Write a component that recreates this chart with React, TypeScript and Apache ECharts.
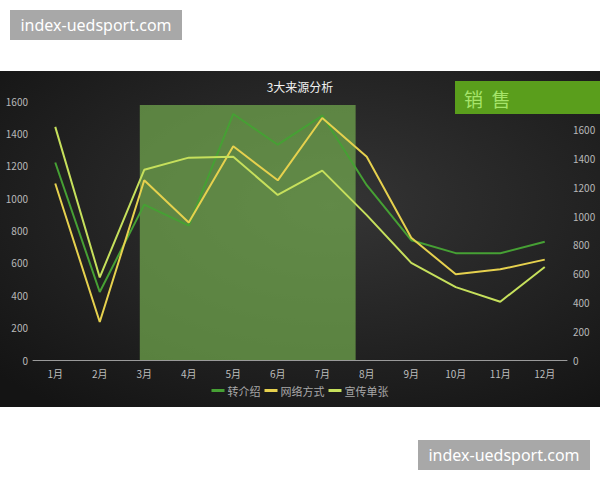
import { useEffect, useRef } from 'react';
import * as echarts from 'echarts';

// months on the x axis
const months = ['1月', '2月', '3月', '4月', '5月', '6月', '7月', '8月', '9月', '10月', '11月', '12月'];

// three sources
const referral = [1220, 420, 960, 830, 1520, 1330, 1510, 1080, 740, 660, 660, 730];
const online = [1090, 235, 1110, 850, 1320, 1110, 1495, 1255, 755, 530, 560, 620];
const flyer = [1440, 510, 1175, 1250, 1255, 1020, 1170, 895, 600, 450, 360, 575];

const seriesNames = ['转介绍', '网络方式', '宣传单张'];

// highlighted span (month index on a hidden value axis) and its top value
const highlightFrom = 1.9;
const highlightTo = 6.75;
const highlightTop = 1575;

export default function App() {
  const chartRef = useRef<HTMLDivElement>(null);

  useEffect(() => {
    if (!chartRef.current) return;
    const chart = echarts.init(chartRef.current, null, { renderer: 'svg' });

    const lineColors = ['#46a034', '#e6d14e', '#c6e05c'];

    const tag = (left: number, top: number) => ({
      type: 'group' as const,
      left,
      top,
      children: [
        { type: 'rect', shape: { x: 0, y: 0, width: 172, height: 30 }, style: { fill: '#a8a8a8' } },
        {
          type: 'text',
          x: 86,
          y: 15,
          style: {
            text: 'index-uedsport.com',
            fill: '#ffffff',
            fontSize: 16,
            fontFamily: '"Noto Sans", sans-serif',
            align: 'center',
            verticalAlign: 'middle',
          },
        },
      ],
    });

    const option: echarts.EChartsOption = {
      animation: false,
      backgroundColor: '#ffffff',
      textStyle: { fontFamily: '"Noto Sans CJK SC", "Noto Sans", sans-serif' },
      graphic: [
        // dark chart panel
        {
          type: 'rect',
          z: -10,
          shape: { x: 0, y: 71, width: 600, height: 336 },
          style: {
            fill: new echarts.graphic.RadialGradient(0.55, 0.4, 0.75, [
              { offset: 0, color: '#353535' },
              { offset: 1, color: '#141414' },
            ]),
          },
        },
        // site tags
        tag(10, 10),
        tag(418, 440),
        // "销售" banner
        {
          type: 'group',
          left: 455,
          top: 81,
          z: 20,
          children: [
            { type: 'rect', shape: { x: 0, y: 0, width: 145, height: 33 }, style: { fill: '#5a9e1c' } },
            {
              type: 'text',
              x: 9,
              y: 17,
              style: {
                text: '销  售',
                fill: '#a6e46a',
                fontSize: 19,
                fontFamily: '"Noto Sans CJK SC", sans-serif',
                verticalAlign: 'middle',
              },
            },
          ],
        },
      ],
      title: {
        text: '3大来源分析',
        left: 'center',
        top: 75,
        textStyle: { color: '#f0f0f0', fontSize: 12, fontWeight: 'normal' },
      },
      legend: {
        bottom: 79,
        left: 'center',
        icon: 'rect',
        itemWidth: 13,
        itemHeight: 3,
        itemGap: 4,
        data: seriesNames,
        textStyle: { color: '#a8a8a8', fontSize: 11, padding: [0, 0, 0, -2] },
      },
      grid: { left: 33, right: 33, top: 101, bottom: 120 },
      xAxis: [
        {
          type: 'category',
          data: months,
          boundaryGap: true,
          axisLine: { lineStyle: { color: '#9a9a9a', width: 1 } },
          axisTick: { show: false },
          axisLabel: { color: '#bdbdbd', fontSize: 10, margin: 8 },
        },
        { type: 'value', min: -0.5, max: 11.5, show: false },
      ],
      yAxis: [
        {
          type: 'value',
          min: 0,
          max: 1600,
          interval: 200,
          axisLine: { show: false },
          axisTick: { show: false },
          splitLine: { show: false },
          axisLabel: { color: '#b8b8b8', fontSize: 10, margin: 5, formatter: (v: number) => String(v) },
        },
        {
          type: 'value',
          min: 0,
          max: 1800,
          interval: 200,
          position: 'right',
          axisLine: { show: false },
          axisTick: { show: false },
          splitLine: { show: false },
          axisLabel: {
            color: '#b8b8b8',
            fontSize: 10,
            margin: 6,
            formatter: (v: number) => (v === 1800 ? '' : String(v)),
          },
        },
      ],
      series: [
        {
          type: 'line',
          name: 'highlight',
          xAxisIndex: 1,
          yAxisIndex: 0,
          data: [],
          silent: true,
          markArea: {
            silent: true,
            itemStyle: { color: 'rgba(122,182,82,0.66)' },
            data: [[{ xAxis: highlightFrom, yAxis: highlightTop }, { xAxis: highlightTo, yAxis: 0 }]],
          },
        },
        ...[referral, online, flyer].map((values, i) => ({
          type: 'line' as const,
          name: seriesNames[i],
          data: values,
          symbol: 'none',
          z: 3,
          color: lineColors[i],
          lineStyle: { color: lineColors[i], width: 2 },
        })),
      ],
    };

    chart.setOption(option);
    return () => chart.dispose();
  }, []);

  return (
    <div
      ref={chartRef}
      style={{ position: 'absolute', left: 0, top: 0, width: 600, height: 480 }}
    />
  );
}
